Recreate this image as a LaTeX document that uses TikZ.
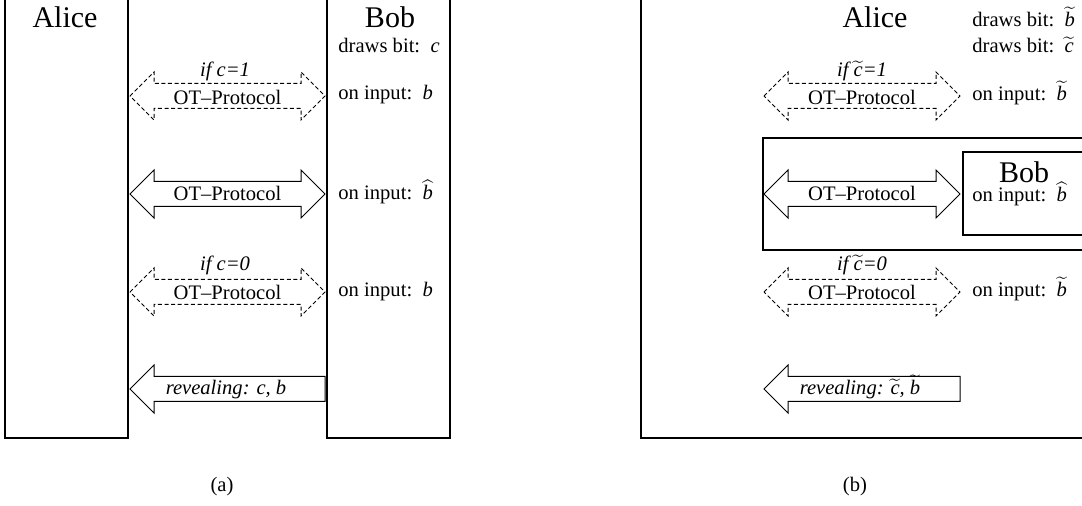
\documentclass[tikz,border=0pt]{standalone}
\usepackage{fontspec}
\setmainfont{Liberation Serif}
\newcommand{\otTwoWay}[4][]{\path[#1] (#2,#4) -- (#2+24,#4-24) -- (#2+24,#4-12.5) -- (#3-24,#4-12.5) -- (#3-24,#4-24) -- (#3,#4) -- (#3-24,#4+24) -- (#3-24,#4+12.5) -- (#2+24,#4+12.5) -- (#2+24,#4+24) -- cycle;}
\newcommand{\otOneWay}[4][]{\path[#1] (#2,#4) -- (#2+24,#4-24) -- (#2+24,#4-12.5) -- (#3,#4-12.5) -- (#3,#4+12.5) -- (#2+24,#4+12.5) -- (#2+24,#4+24) -- cycle;}
\newcommand{\tldvar}[1]{\smash{$\widetilde{\textit{#1}}$}}
\newcommand{\hatvar}[1]{\smash{$\widehat{\textit{#1}}$}}
\begin{document}
\begin{tikzpicture}[x=0.5pt,y=-0.5pt,
  box/.style={draw, line width=1pt},
  arr/.style={draw, line width=0.5pt, fill=white},
  dasharr/.style={arr, dash pattern=on 2pt off 1.3pt},
  lbl/.style={inner sep=0pt, font=\fontsize{10.3}{12}\selectfont},
  big/.style={inner sep=0pt, font=\fontsize{15}{17}\selectfont}]
\useasboundingbox (0,0) rectangle (1082,506);
\clip (0,0) rectangle (1082,506);
% ---------------- (a) ----------------
\path[box] (5,-20) rectangle (128,438);
\path[box] (327,-20) rectangle (450,438);
\node[big, anchor=base] (aliceA) at (65,28) {Alice};
\node[big, anchor=base] (bobA) at (390,28) {Bob};
\node[lbl, anchor=base west] (drawA) at (338,53) {draws bit:\enspace\textit{c}};
\node[lbl, anchor=base west] (inA1) at (338,100) {on input:\enspace\textit{b}};
\node[lbl, anchor=base west] (inA2) at (338,200) {on input:\enspace\hatvar{b}};
\node[lbl, anchor=base west] (inA3) at (338,297) {on input:\enspace\textit{b}};
\otTwoWay[dasharr]{130}{325}{96}
\otTwoWay[arr]{130}{325}{194}
\otTwoWay[dasharr]{130}{325}{292}
\otOneWay[arr]{130}{325}{389}
\node[lbl, anchor=base] (ifA1) at (225,77) {\textit{if c=1}};
\node[lbl, anchor=base] (otA1) at (227.5,105) {OT--Protocol};
\node[lbl, anchor=base] (otA2) at (227.5,201) {OT--Protocol};
\node[lbl, anchor=base] (ifA2) at (225,271) {\textit{if c=0}};
\node[lbl, anchor=base] (otA3) at (227.5,300) {OT--Protocol};
\node[lbl, anchor=base] (revA) at (226,395) {\textit{revealing: c, b}};
\node[lbl, anchor=base] (capA) at (222,492) {(a)};
% ---------------- (b) ----------------
\path[box] (641,-20) rectangle (1100,438);
\path[box] (763,138) rectangle (1100,250);
\path[box] (963,152) rectangle (1100,235);
\node[big, anchor=base] (aliceB) at (875,28) {Alice};
\node[lbl, anchor=base west] (drawB1) at (972,27) {draws bit:\enspace\tldvar{b}};
\node[lbl, anchor=base west] (drawB2) at (972,53) {draws bit:\enspace\tldvar{c}};
\node[lbl, anchor=base west] (inB1) at (972,101) {on input:\enspace\tldvar{b}};
\node[big, anchor=base] (bobB) at (1024,183) {Bob};
\node[lbl, anchor=base west] (inB2) at (972,202) {on input:\enspace\hatvar{b}};
\node[lbl, anchor=base west] (inB3) at (972,297) {on input:\enspace\tldvar{b}};
\otTwoWay[dasharr]{764}{960}{96}
\otTwoWay[arr]{764}{960}{194}
\otTwoWay[dasharr]{764}{960}{292}
\otOneWay[arr]{764}{960}{389}
\node[lbl, anchor=base] (ifB1) at (862,77) {\textit{if \tldvar{c}=1}};
\node[lbl, anchor=base] (otB1) at (862,105) {OT--Protocol};
\node[lbl, anchor=base] (otB2) at (862,201) {OT--Protocol};
\node[lbl, anchor=base] (ifB2) at (862,271) {\textit{if \tldvar{c}=0}};
\node[lbl, anchor=base] (otB3) at (862,300) {OT--Protocol};
\node[lbl, anchor=base] (revB) at (860,395) {\textit{revealing: \tldvar{c}, \tldvar{b}}};
\node[lbl, anchor=base] (capB) at (855,492) {(b)};
\end{tikzpicture}
\end{document}
